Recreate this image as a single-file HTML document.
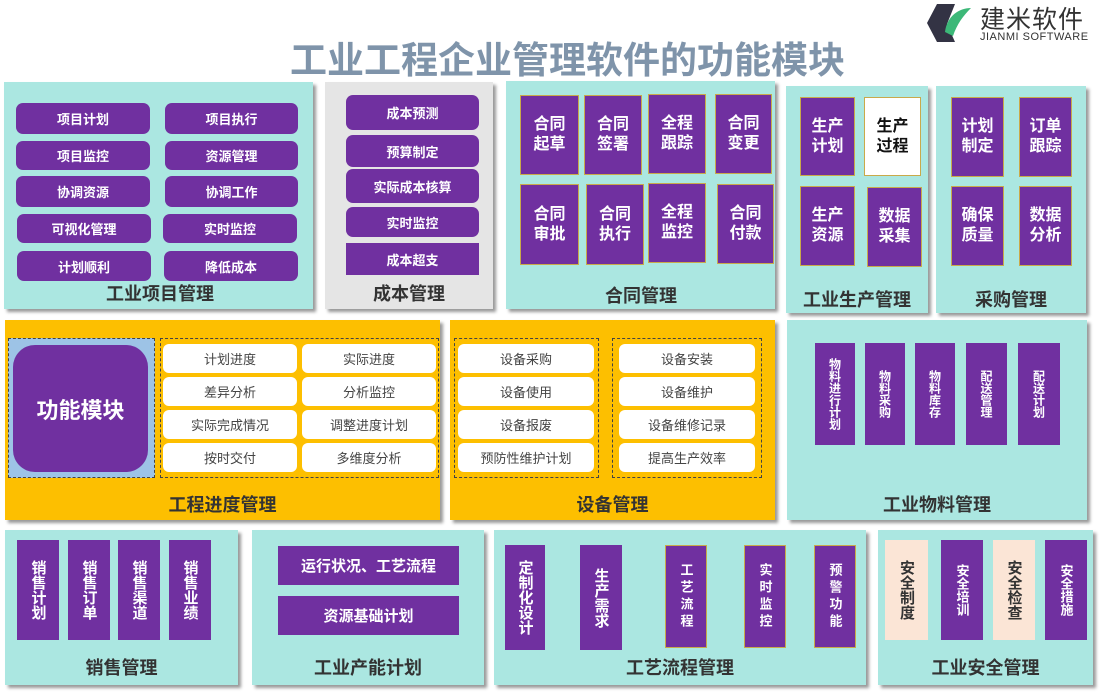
<!DOCTYPE html>
<html><head><meta charset="utf-8"><style>
*{margin:0;padding:0;box-sizing:border-box}
body{width:1100px;height:700px;background:#fff;position:relative;overflow:hidden;font-family:"Liberation Sans","Noto Sans CJK SC",sans-serif;font-weight:bold}
.a{position:absolute}
.p{position:absolute;background:#abe7e1;box-shadow:3px 3px 3px #999}
.g{background:#e5e5e5}
.o{background:#fdbf00}
.b{position:absolute;background:#7030a0;color:#fff;display:flex;align-items:center;justify-content:center;text-align:center;font-size:13px}
.r{border-radius:7px}
.v{font-size:16px;line-height:20px;border:1px solid #c9a94a}
.n{writing-mode:vertical-rl;text-orientation:upright;font-size:14px;letter-spacing:0}
.w{position:absolute;background:#fff;color:#444;border-radius:6px;display:flex;align-items:center;justify-content:center;font-size:13px;font-weight:normal}
.l{position:absolute;font-size:18px;color:#333;text-align:center}
.d{position:absolute;border:1.5px dashed #444}
</style></head><body>
<div class="a" style="left:0;top:30px;width:1135px;text-align:center;font-size:37px;color:#7f94aa">工业工程企业管理软件的功能模块</div>
<svg class="a" style="left:925px;top:2px" width="50" height="42"><polygon points="12,2 30,2 22,22 30,40 12,40 2,21" fill="#334"/><path d="M20,30 C22,14 34,6 46,6 C38,14 32,22 28,34 Z" fill="#3cb878"/></svg>
<div class="a" style="left:980px;top:0;font-size:25px;color:#333;font-weight:normal;letter-spacing:1px">建米软件</div>
<div class="a" style="left:980px;top:31px;font-size:11px;color:#333;font-weight:normal;letter-spacing:0.5px">JIANMI SOFTWARE</div>

<!-- row1 -->
<div class="p" style="left:4px;top:82px;width:309px;height:227px"></div>
<div class="b r" style="left:16px;top:103px;width:134px;height:31px">项目计划</div>
<div class="b r" style="left:165px;top:103px;width:133px;height:31px">项目执行</div>
<div class="b r" style="left:16px;top:141px;width:134px;height:29px">项目监控</div>
<div class="b r" style="left:165px;top:141px;width:133px;height:29px">资源管理</div>
<div class="b r" style="left:16px;top:176px;width:134px;height:31px">协调资源</div>
<div class="b r" style="left:165px;top:176px;width:133px;height:31px">协调工作</div>
<div class="b r" style="left:17px;top:214px;width:134px;height:29px">可视化管理</div>
<div class="b r" style="left:163px;top:214px;width:134px;height:29px">实时监控</div>
<div class="b r" style="left:17px;top:251px;width:134px;height:30px">计划顺利</div>
<div class="b r" style="left:164px;top:251px;width:134px;height:30px">降低成本</div>
<div class="l" style="left:60px;top:280px;width:200px">工业项目管理</div>

<div class="p g" style="left:325px;top:82px;width:168px;height:227px"></div>
<div class="b r" style="left:346px;top:95px;width:133px;height:35px">成本预测</div>
<div class="b r" style="left:346px;top:135px;width:133px;height:32px">预算制定</div>
<div class="b r" style="left:346px;top:169px;width:133px;height:34px">实际成本核算</div>
<div class="b r" style="left:346px;top:207px;width:133px;height:30px">实时监控</div>
<div class="b" style="left:346px;top:243px;width:133px;height:32px">成本超支</div>
<div class="l" style="left:325px;top:280px;width:168px">成本管理</div>

<div class="p" style="left:506px;top:81px;width:269px;height:228px"></div>
<div class="b v" style="left:520px;top:95px;width:59px;height:80px">合同<br>起草</div>
<div class="b v" style="left:584px;top:95px;width:58px;height:80px">合同<br>签署</div>
<div class="b v" style="left:648px;top:94px;width:58px;height:80px">全程<br>跟踪</div>
<div class="b v" style="left:715px;top:94px;width:57px;height:80px">合同<br>变更</div>
<div class="b v" style="left:520px;top:184px;width:59px;height:81px">合同<br>审批</div>
<div class="b v" style="left:586px;top:184px;width:58px;height:81px">合同<br>执行</div>
<div class="b v" style="left:648px;top:183px;width:58px;height:80px">全程<br>监控</div>
<div class="b v" style="left:717px;top:184px;width:57px;height:80px">合同<br>付款</div>
<div class="l" style="left:541px;top:282px;width:200px">合同管理</div>

<div class="p" style="left:786px;top:86px;width:142px;height:227px"></div>
<div class="b v" style="left:800px;top:97px;width:55px;height:79px">生产<br>计划</div>
<div class="b v" style="left:864px;top:97px;width:57px;height:79px;background:#fff;color:#111">生产<br>过程</div>
<div class="b v" style="left:800px;top:186px;width:55px;height:80px">生产<br>资源</div>
<div class="b v" style="left:867px;top:187px;width:55px;height:80px">数据<br>采集</div>
<div class="l" style="left:786px;top:286px;width:142px">工业生产管理</div>

<div class="p" style="left:936px;top:86px;width:150px;height:227px"></div>
<div class="b v" style="left:951px;top:97px;width:53px;height:80px">计划<br>制定</div>
<div class="b v" style="left:1019px;top:97px;width:53px;height:80px">订单<br>跟踪</div>
<div class="b v" style="left:951px;top:186px;width:53px;height:80px">确保<br>质量</div>
<div class="b v" style="left:1019px;top:186px;width:53px;height:80px">数据<br>分析</div>
<div class="l" style="left:936px;top:286px;width:150px">采购管理</div>

<!-- row2 -->
<div class="p o" style="left:5px;top:320px;width:435px;height:200px"></div>
<div class="d" style="left:8px;top:338px;width:147px;height:140px;background:#9dc3e6"></div>
<div class="b" style="left:13px;top:345px;width:135px;height:127px;border-radius:22px;font-size:22px">功能模块</div>
<div class="d" style="left:160px;top:338px;width:279px;height:140px"></div>
<div class="w" style="left:163px;top:344px;width:134px;height:29px">计划进度</div>
<div class="w" style="left:302px;top:344px;width:134px;height:29px">实际进度</div>
<div class="w" style="left:163px;top:377px;width:134px;height:29px">差异分析</div>
<div class="w" style="left:302px;top:377px;width:134px;height:29px">分析监控</div>
<div class="w" style="left:163px;top:410px;width:134px;height:29px">实际完成情况</div>
<div class="w" style="left:302px;top:410px;width:134px;height:29px">调整进度计划</div>
<div class="w" style="left:163px;top:443px;width:134px;height:29px">按时交付</div>
<div class="w" style="left:302px;top:443px;width:134px;height:29px">多维度分析</div>
<div class="l" style="left:5px;top:491px;width:435px">工程进度管理</div>

<div class="p o" style="left:450px;top:320px;width:325px;height:200px"></div>
<div class="d" style="left:454px;top:338px;width:145px;height:140px"></div>
<div class="d" style="left:612px;top:338px;width:150px;height:140px"></div>
<div class="w" style="left:458px;top:344px;width:136px;height:29px">设备采购</div>
<div class="w" style="left:458px;top:377px;width:136px;height:29px">设备使用</div>
<div class="w" style="left:458px;top:410px;width:136px;height:29px">设备报废</div>
<div class="w" style="left:458px;top:443px;width:136px;height:29px">预防性维护计划</div>
<div class="w" style="left:619px;top:344px;width:136px;height:29px">设备安装</div>
<div class="w" style="left:619px;top:377px;width:136px;height:29px">设备维护</div>
<div class="w" style="left:619px;top:410px;width:136px;height:29px">设备维修记录</div>
<div class="w" style="left:619px;top:443px;width:136px;height:29px">提高生产效率</div>
<div class="l" style="left:450px;top:491px;width:325px">设备管理</div>

<div class="p" style="left:787px;top:320px;width:300px;height:200px"></div>
<div class="b n" style="left:815px;top:343px;width:40px;height:102px;font-size:12px">物料进行计划</div>
<div class="b n" style="left:865px;top:343px;width:40px;height:102px;font-size:12px">物料采购</div>
<div class="b n" style="left:915px;top:343px;width:40px;height:102px;font-size:12px">物料库存</div>
<div class="b n" style="left:966px;top:343px;width:41px;height:102px;font-size:12px">配送管理</div>
<div class="b n" style="left:1018px;top:343px;width:42px;height:102px;font-size:12px">配送计划</div>
<div class="l" style="left:787px;top:491px;width:300px">工业物料管理</div>

<!-- row3 -->
<div class="p" style="left:5px;top:530px;width:233px;height:155px"></div>
<div class="b n" style="left:17px;top:540px;width:42px;height:100px;font-size:15px">销售计划</div>
<div class="b n" style="left:68px;top:540px;width:42px;height:100px;font-size:15px">销售订单</div>
<div class="b n" style="left:118px;top:540px;width:42px;height:100px;font-size:15px">销售渠道</div>
<div class="b n" style="left:169px;top:540px;width:42px;height:100px;font-size:15px">销售业绩</div>
<div class="l" style="left:5px;top:654px;width:233px">销售管理</div>

<div class="p" style="left:252px;top:530px;width:232px;height:155px"></div>
<div class="b" style="left:278px;top:546px;width:181px;height:39px;font-size:15px">运行状况、工艺流程</div>
<div class="b" style="left:278px;top:596px;width:181px;height:39px;font-size:15px">资源基础计划</div>
<div class="l" style="left:252px;top:654px;width:232px">工业产能计划</div>

<div class="p" style="left:494px;top:530px;width:372px;height:155px"></div>
<div class="b n" style="left:505px;top:545px;width:40px;height:105px;font-size:15px">定制化设计</div>
<div class="b n" style="left:580px;top:545px;width:42px;height:105px;font-size:15px">生产需求</div>
<div class="b n" style="left:665px;top:545px;width:42px;height:103px;font-size:13px;letter-spacing:4px;border:1px solid #c9a94a">工艺流程</div>
<div class="b n" style="left:744px;top:545px;width:42px;height:103px;font-size:13px;letter-spacing:4px;border:1px solid #c9a94a">实时监控</div>
<div class="b n" style="left:814px;top:545px;width:42px;height:103px;font-size:13px;letter-spacing:4px;border:1px solid #c9a94a">预警功能</div>
<div class="l" style="left:494px;top:654px;width:372px">工艺流程管理</div>

<div class="p" style="left:878px;top:530px;width:215px;height:155px"></div>
<div class="b n" style="left:885px;top:540px;width:43px;height:100px;font-size:15px;background:#fbe5d6;color:#333">安全制度</div>
<div class="b n" style="left:941px;top:540px;width:42px;height:100px;font-size:13px">安全培训</div>
<div class="b n" style="left:993px;top:540px;width:42px;height:100px;font-size:15px;background:#fbe5d6;color:#333">安全检查</div>
<div class="b n" style="left:1045px;top:540px;width:42px;height:100px;font-size:13px">安全措施</div>
<div class="l" style="left:878px;top:654px;width:215px">工业安全管理</div>
</body></html>
